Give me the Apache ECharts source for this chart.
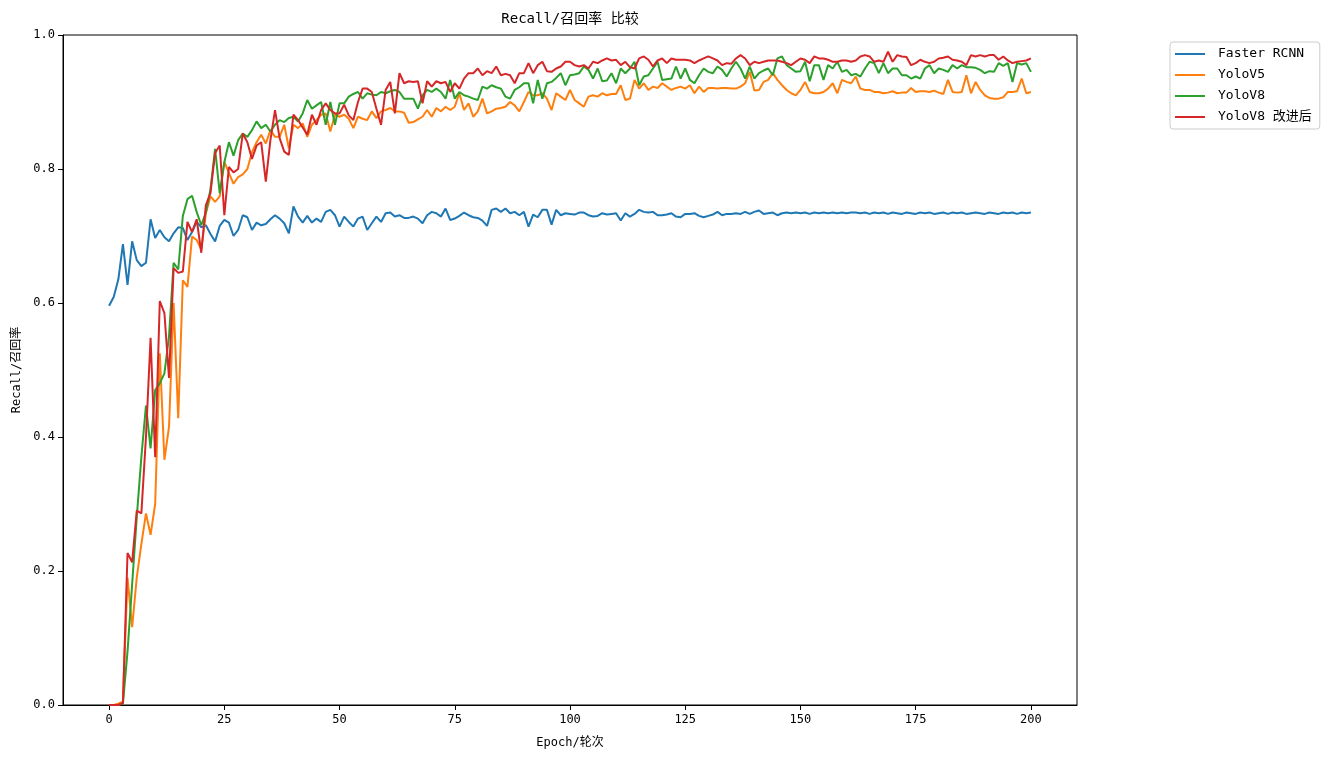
<!DOCTYPE html>
<html>
<head>
<meta charset="utf-8">
<style>html,body{margin:0;padding:0;background:#fff;}#chart{width:1341px;height:760px;}</style>
<script src="https://cdn.jsdelivr.net/npm/echarts@6/dist/echarts.min.js"></script>
</head>
<body>
<div id="chart"></div>
<script>
const seriesNames = ['Faster RCNN', 'YoloV5', 'YoloV8', 'YoloV8 改进后'];
const xTicks = [0, 25, 50, 75, 100, 125, 150, 175, 200];
const yTicks = [0.0, 0.2, 0.4, 0.6, 0.8, 1.0];

const fasterRcnn = [
.596,.609,.635,.688,.627,.692,.664,.655,.660,.725,
.697,.709,.698,.692,.704,.713,.712,.694,.706,.721,
.713,.716,.703,.692,.715,.724,.720,.700,.709,.731,
.728,.709,.720,.716,.718,.725,.731,.726,.719,.704,
.744,.729,.720,.730,.720,.726,.721,.736,.739,.731,
.714,.729,.721,.714,.726,.729,.709,.719,.729,.721,
.734,.735,.729,.731,.727,.727,.729,.726,.719,.731,
.736,.734,.729,.741,.724,.726,.730,.735,.731,.728,
.727,.723,.715,.739,.741,.736,.741,.734,.736,.731,
.736,.714,.732,.728,.739,.739,.717,.739,.731,.734,
.733,.732,.735,.735,.731,.729,.730,.734,.732,.733,
.734,.723,.734,.729,.733,.739,.736,.735,.736,.731,
.731,.732,.734,.729,.728,.733,.733,.734,.730,.728,
.730,.732,.736,.731,.733,.733,.734,.733,.736,.733,
.736,.738,.733,.734,.735,.731,.734,.735,.734,.735,
.734,.735,.733,.735,.734,.735,.734,.735,.734,.735,
.734,.735,.735,.734,.735,.733,.735,.734,.735,.733,
.735,.734,.733,.735,.734,.733,.735,.734,.735,.733,
.734,.735,.733,.735,.734,.735,.733,.734,.735,.734,
.733,.735,.734,.733,.735,.734,.735,.733,.735,.734,
.735];

const yoloV5 = [
0,0,.002,.005,.19,.116,.19,.24,.286,.254,
.30,.525,.366,.415,.60,.428,.634,.624,.699,.694,
.68,.734,.759,.751,.759,.811,.794,.778,.788,.792,
.80,.825,.84,.851,.838,.858,.848,.848,.866,.831,
.866,.861,.868,.848,.866,.873,.881,.883,.856,.881,
.878,.881,.875,.861,.878,.875,.873,.886,.876,.886,
.888,.891,.886,.886,.884,.869,.870,.874,.878,.888,
.878,.891,.886,.893,.888,.893,.913,.888,.898,.878,
.886,.905,.883,.886,.890,.891,.893,.900,.895,.886,
.900,.915,.910,.910,.913,.905,.888,.913,.908,.903,
.918,.903,.898,.893,.908,.910,.908,.913,.910,.912,
.912,.925,.903,.905,.933,.920,.928,.918,.923,.921,
.928,.923,.918,.921,.923,.920,.925,.913,.923,.915,
.921,.921,.920,.921,.921,.920,.920,.923,.928,.945,
.917,.918,.930,.933,.943,.933,.925,.918,.913,.910,
.918,.930,.915,.913,.913,.915,.920,.928,.913,.933,
.930,.928,.938,.920,.918,.918,.915,.915,.913,.914,
.916,.913,.914,.914,.921,.915,.916,.916,.915,.917,
.914,.912,.933,.915,.914,.915,.940,.913,.930,.918,
.910,.906,.905,.905,.907,.915,.915,.916,.935,.913,
.915];

const yoloV8 = [
0,0,0,.002,.08,.18,.28,.37,.447,.383,
.47,.48,.495,.55,.66,.65,.73,.755,.76,.736,
.716,.735,.77,.83,.764,.81,.84,.82,.843,.853,
.848,.858,.871,.861,.866,.856,.866,.873,.870,.876,
.878,.871,.883,.903,.890,.895,.900,.866,.900,.866,
.898,.898,.908,.912,.915,.905,.913,.911,.910,.915,
.913,.916,.918,.915,.905,.905,.905,.890,.910,.918,
.915,.920,.915,.905,.933,.905,.915,.910,.908,.905,
.903,.923,.920,.925,.922,.920,.908,.905,.918,.922,
.928,.928,.898,.933,.905,.928,.930,.936,.943,.925,
.940,.941,.943,.953,.948,.935,.950,.931,.932,.943,
.928,.950,.943,.950,.960,.925,.938,.940,.950,.960,
.933,.934,.935,.953,.935,.950,.933,.928,.940,.950,
.945,.943,.953,.948,.938,.950,.960,.950,.935,.953,
.935,.943,.947,.950,.940,.965,.968,.955,.950,.945,
.946,.960,.931,.955,.955,.933,.955,.950,.960,.945,
.948,.940,.942,.938,.950,.960,.958,.943,.958,.943,
.950,.950,.940,.940,.935,.938,.935,.950,.955,.943,
.950,.948,.945,.955,.950,.955,.952,.952,.951,.948,
.943,.946,.945,.958,.954,.958,.930,.958,.956,.958,
.945];

const yoloV8Improved = [
0,0,0,.003,.227,.213,.29,.286,.40,.548,
.37,.603,.585,.488,.652,.645,.647,.721,.706,.725,
.675,.746,.764,.824,.835,.731,.803,.795,.80,.853,
.84,.815,.835,.84,.781,.843,.888,.846,.826,.821,
.881,.873,.862,.851,.881,.866,.888,.898,.888,.883,
.883,.896,.88,.873,.90,.92,.92,.915,.89,.866,
.918,.93,.883,.943,.928,.931,.93,.931,.898,.931,
.923,.931,.928,.93,.915,.928,.92,.935,.943,.943,
.95,.94,.946,.943,.953,.94,.942,.94,.928,.943,
.943,.958,.943,.955,.96,.946,.945,.95,.953,.96,
.96,.955,.953,.955,.95,.96,.958,.962,.965,.962,
.963,.955,.96,.952,.95,.965,.968,.963,.953,.962,
.965,.958,.965,.963,.963,.963,.962,.958,.962,.965,
.968,.965,.962,.955,.958,.957,.965,.97,.965,.955,
.96,.958,.96,.962,.962,.962,.96,.958,.955,.96,
.965,.963,.958,.968,.965,.965,.963,.96,.96,.962,
.962,.96,.962,.968,.97,.968,.96,.962,.96,.975,
.96,.97,.968,.967,.955,.958,.963,.96,.958,.96,
.965,.966,.968,.963,.962,.96,.955,.97,.968,.97,
.968,.97,.97,.963,.968,.962,.958,.96,.961,.962,
.965];

const colors = ['#1f77b4', '#ff7f0e', '#2ca02c', '#d62728'];
const allValues = [fasterRcnn, yoloV5, yoloV8, yoloV8Improved];
const FONT = "'DejaVu Sans Mono', 'Noto Sans CJK SC', monospace";

const chart = echarts.init(document.getElementById('chart'), null, {renderer: 'canvas'});
const series = allValues.map((vals, i) => ({
  name: seriesNames[i],
  type: 'line',
  data: vals.map((v, e) => [e, v]),
  showSymbol: false,
  symbol: 'none',
  lineStyle: {width: 2, color: colors[i]},
  itemStyle: {color: colors[i]},
  z: 2 + i,
  animation: false
}));

chart.setOption({
  animation: false,
  backgroundColor: '#fff',
  textStyle: {fontFamily: FONT},
  graphic: [{
    type: 'text', x: 570, y: 19,
    style: {text: 'Recall/召回率 比较', align: 'center', verticalAlign: 'middle',
      fontFamily: FONT, fontSize: 14, fill: '#000'}
  }],
  grid: {left: 63, right: 264, top: 35, bottom: 55, show: true, borderColor: '#000', borderWidth: 1, backgroundColor: 'transparent'},
  legend: {
    orient: 'vertical', left: 1170, top: 42,
    padding: [5, 8, 5, 5], itemGap: 7,
    itemWidth: 30, itemHeight: 2, icon: 'rect',
    borderColor: '#cccccc', borderWidth: 1, borderRadius: 3, backgroundColor: '#fff',
    textStyle: {fontFamily: FONT, fontSize: 13, color: '#000', lineHeight: 14, padding: [0, 0, 0, 8]},
    data: seriesNames
  },
  xAxis: {
    type: 'value', min: -10, max: 210,
    name: 'Epoch/轮次', nameLocation: 'middle', nameGap: 32,
    nameTextStyle: {fontFamily: FONT, fontSize: 12, color: '#000'},
    axisLine: {show: true, onZero: false, lineStyle: {color: '#000', width: 1}},
    axisTick: {show: true, inside: false, length: 5, lineStyle: {color: '#000'}, customValues: xTicks},
    axisLabel: {fontFamily: FONT, fontSize: 12, color: '#000', margin: 9, customValues: xTicks},
    splitLine: {show: false}
  },
  yAxis: {
    type: 'value', min: 0, max: 1, interval: 0.2,
    name: 'Recall/召回率', nameLocation: 'middle', nameGap: 40,
    nameTextStyle: {fontFamily: FONT, fontSize: 12, color: '#000'},
    axisLine: {show: true, onZero: false, lineStyle: {color: '#000', width: 1}},
    axisTick: {show: true, inside: false, length: 5, lineStyle: {color: '#000'}, customValues: yTicks},
    axisLabel: {fontFamily: FONT, fontSize: 12, color: '#000', margin: 8, customValues: yTicks,
      formatter: v => Number(v).toFixed(1)},
    splitLine: {show: false}
  },
  series: series
});
</script>
</body>
</html>
